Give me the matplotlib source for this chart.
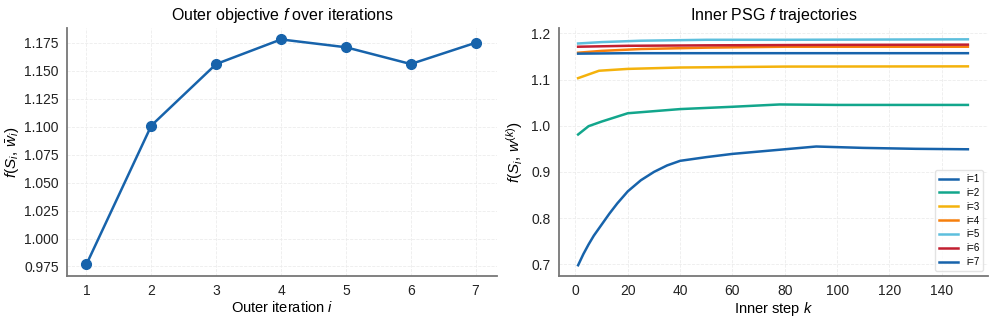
import numpy as np
import matplotlib.pyplot as plt

plt.rcParams['font.family'] = ['Liberation Sans', 'DejaVu Sans']
plt.rcParams['mathtext.fontset'] = 'custom'
plt.rcParams['mathtext.rm'] = 'Liberation Sans'
plt.rcParams['mathtext.it'] = 'Liberation Sans:italic'

# Outer objective per outer iteration
outer_iter = [1, 2, 3, 4, 5, 6, 7]
outer_f = [0.977, 1.101, 1.156, 1.178, 1.171, 1.156, 1.175]

# Inner PSG trajectories (k, f) per outer iteration
k1 = [1, 3, 5, 7, 10, 13, 16, 20, 25, 30, 35, 40, 50, 60, 70, 80, 92, 110, 130, 150]
f1 = [0.698, 0.722, 0.743, 0.762, 0.786, 0.810, 0.832, 0.858, 0.882, 0.900, 0.914,
      0.924, 0.932, 0.939, 0.944, 0.949, 0.955, 0.952, 0.950, 0.949]
k2 = [1, 5, 10, 20, 40, 60, 78, 100, 150]
f2 = [0.981, 0.999, 1.009, 1.027, 1.036, 1.041, 1.046, 1.045, 1.045]
k3 = [1, 9, 20, 40, 80, 150]
f3 = [1.103, 1.119, 1.123, 1.126, 1.128, 1.1285]
k4 = [1, 10, 25, 50, 80, 150]
f4 = [1.158, 1.162, 1.166, 1.169, 1.171, 1.171]
k5 = [1, 10, 25, 50, 80, 150]
f5 = [1.178, 1.181, 1.184, 1.186, 1.186, 1.187]
k6 = [1, 20, 50, 100, 150]
f6 = [1.171, 1.173, 1.174, 1.175, 1.1755]
k7 = [1, 20, 50, 100, 150]
f7 = [1.156, 1.157, 1.157, 1.157, 1.157]

inner_k = [k1, k2, k3, k4, k5, k6, k7]
inner_f = [f1, f2, f3, f4, f5, f6, f7]
inner_labels = ['i=1', 'i=2', 'i=3', 'i=4', 'i=5', 'i=6', 'i=7']
inner_colors = ['#1763ab', '#12a68c', '#f4b20c', '#f67f0c', '#5dbfdd', '#c21f30', '#1763ab']

fig = plt.figure(figsize=(9.96, 3.25), dpi=100)
ax1 = fig.add_axes([0.0673, 0.1508, 0.4317, 0.763])
ax2 = fig.add_axes([0.561, 0.1508, 0.431, 0.763])

for ax in (ax1, ax2):
    ax.grid(True, linestyle='--', linewidth=0.6, color='#ececec')
    ax.set_axisbelow(True)
    for side in ('top', 'right'):
        ax.spines[side].set_visible(False)
    for side in ('left', 'bottom'):
        ax.spines[side].set_color('#777777')
        ax.spines[side].set_linewidth(1.3)
    ax.tick_params(labelsize=10, length=0, pad=6, colors='#222222')

ax1.plot(outer_iter, outer_f, color='#1763ab', lw=1.8, marker='o', ms=7)
ax1.set_xlim(0.7, 7.33)
ax1.set_ylim(0.9665, 1.1882)
ax1.set_yticks([0.975, 1.000, 1.025, 1.050, 1.075, 1.100, 1.125, 1.150, 1.175])
ax1.yaxis.set_major_formatter(plt.FormatStrFormatter('%.3f'))
ax1.set_xlabel('Outer iteration $i$', fontsize=10.5, labelpad=1)
ax1.set_ylabel(r'$f(S_i,\, \bar{w}_i)$', fontsize=11)
ax1.yaxis.set_label_coords(-0.107, 0.5)
ax1.set_title('Outer objective $f$ over iterations', fontsize=11.5)

for k, f, lab, c in zip(inner_k, inner_f, inner_labels, inner_colors):
    ax2.plot(k, f, color=c, lw=1.8, label=lab)
ax2.set_xlim(-6.4, 157.7)
ax2.set_ylim(0.6747, 1.2115)
ax2.set_xticks([0, 20, 40, 60, 80, 100, 120, 140])
ax2.set_xlabel('Inner step $k$', fontsize=10.5, labelpad=1)
ax2.set_ylabel(r'$f(S_i,\, w^{(k)})$', fontsize=11)
ax2.yaxis.set_label_coords(-0.079, 0.5)
ax2.set_title('Inner PSG $f$ trajectories', fontsize=11.5)
leg = ax2.legend(loc='lower right', fontsize=7, frameon=True, handlelength=2,
                 labelspacing=0.4, borderaxespad=0.5)
leg.get_frame().set_edgecolor('#dddddd')

fig.savefig('out.png', dpi=100)
